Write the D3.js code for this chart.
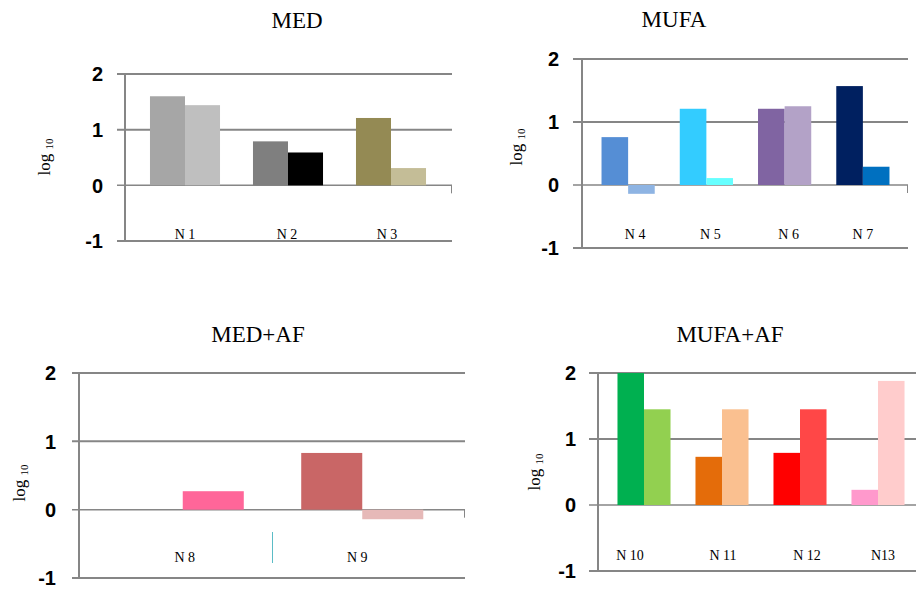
<!DOCTYPE html>
<html>
<head>
<meta charset="utf-8">
<script src="https://cdn.jsdelivr.net/npm/d3@7"></script>
<style>
  body { margin: 0; background: #fff; }
</style>
</head>
<body>
<svg id="chart" width="916" height="589"></svg>
<script>
// ---- data ----
const yTicks = [-1, 0, 1, 2];

const medCats = ['N 1', 'N 2', 'N 3'];
const medFirst = [1.60, 0.79, 1.21];
const medSecond = [1.44, 0.59, 0.31];
const medColorsFirst = ['#a6a6a6', '#7f7f7f', '#948a54'];
const medColorsSecond = ['#bfbfbf', '#000000', '#c4bd97'];

const mufaCats = ['N 4', 'N 5', 'N 6', 'N 7'];
const mufaFirst = [0.76, 1.21, 1.21, 1.57];
const mufaSecond = [-0.14, 0.11, 1.25, 0.29];
const mufaColorsFirst = ['#558ed5', '#33ccff', '#8064a2', '#002060'];
const mufaColorsSecond = ['#8eb4e3', '#66ffff', '#b3a2c7', '#0070c0'];

const medAfCats = ['N 8', 'N 9'];
const medAfFirst = [null, 0.83];
const medAfSecond = [0.27, -0.14];
const medAfColorsFirst = ['#ff6699', '#c96666'];
const medAfColorsSecond = ['#ff6699', '#e6b9b8'];

const mufaAfCats = ['N 10', 'N 11', 'N 12', 'N13'];
const mufaAfFirst = [2.0, 0.73, 0.79, 0.23];
const mufaAfSecond = [1.45, 1.45, 1.45, 1.88];
const mufaAfColorsFirst = ['#00b050', '#e46c0a', '#ff0000', '#ff99cc'];
const mufaAfColorsSecond = ['#92d050', '#fac090', '#ff4747', '#ffcccc'];

// ---- panel layout ----
const panels = [
    { title: 'MED', cats: medCats, first: medFirst, second: medSecond,
      c1: medColorsFirst, c2: medColorsSecond,
      titleX: 297, titleY: 28, axisX: 125, gridX0: 117, gridX1: 452,
      yTop: 74, yBot: 241, band: [133.5, 442.5], labelY: 239,
      nudge: [0, -1, -4], tickLabelX: 103, logX: 50, logY: 157, endTick: true },
    { title: 'MUFA', cats: mufaCats, first: mufaFirst, second: mufaSecond,
      c1: mufaColorsFirst, c2: mufaColorsSecond,
      titleX: 674, titleY: 27, axisX: 582, gridX0: 573, gridX1: 908,
      yTop: 59, yBot: 248, band: [589, 902], labelY: 239,
      nudge: [7, 4, 4, 0], tickLabelX: 559, logX: 522, logY: 147, endTick: true },
    { title: 'MED+AF', cats: medAfCats, first: medAfFirst, second: medAfSecond,
      c1: medAfColorsFirst, c2: medAfColorsSecond,
      titleX: 258, titleY: 342, axisX: 79, gridX0: 72, gridX1: 465,
      yTop: 373, yBot: 578, band: [93, 452], labelY: 562,
      nudge: [2, -5], tickLabelX: 56, logX: 25, logY: 483, endTick: true, separators: true },
    { title: 'MUFA+AF', cats: mufaAfCats, first: mufaAfFirst, second: mufaAfSecond,
      c1: mufaAfColorsFirst, c2: mufaAfColorsSecond,
      titleX: 730, titleY: 342, axisX: 598, gridX0: 589, gridX1: 916,
      yTop: 373, yBot: 571, band: [605, 917], labelY: 560,
      nudge: [-14, 1, 7, 5], tickLabelX: 576, logX: 540, logY: 472, endTick: false }
];

const svg = d3.select('#chart');
const gridColor = '#868686';

panels.forEach(p => {
    const g = svg.append('g');

    const y = d3.scaleLinear().domain([-1, 2]).range([p.yBot, p.yTop]);
    const x = d3.scaleBand().domain(p.cats).range(p.band)
        .paddingInner(0.32).paddingOuter(0.16);
    const xs = d3.scaleBand().domain([0, 1]).range([0, x.bandwidth()]);

    // title
    g.append('text')
        .attr('x', p.titleX)
        .attr('y', p.titleY)
        .attr('text-anchor', 'middle')
        .style('font-family', '"Liberation Serif", "Times New Roman", serif')
        .style('font-size', '23px')
        .text(p.title);

    // horizontal grid lines
    g.selectAll('.grid')
        .data(yTicks)
        .join('line')
        .attr('x1', p.gridX0)
        .attr('x2', p.gridX1)
        .attr('y1', d => y(d))
        .attr('y2', d => y(d))
        .style('stroke', gridColor)
        .style('stroke-width', d => d === 0 ? 1.5 : 2);

    // tick labels
    g.selectAll('.tick-label')
        .data(yTicks)
        .join('text')
        .attr('x', p.tickLabelX)
        .attr('y', d => y(d))
        .attr('dy', '0.36em')
        .attr('text-anchor', 'end')
        .style('font-family', '"Liberation Sans", Arial, sans-serif')
        .style('font-weight', 'bold')
        .style('font-size', '20px')
        .text(d => d);

    // bars
    const rows = [];
    p.cats.forEach((c, i) => {
        if (p.first[i] != null) rows.push({ cat: c, k: 0, v: p.first[i], color: p.c1[i] });
        if (p.second[i] != null) rows.push({ cat: c, k: 1, v: p.second[i], color: p.c2[i] });
    });
    g.selectAll('.bar')
        .data(rows)
        .join('rect')
        .attr('x', d => x(d.cat) + xs(d.k))
        .attr('width', xs.bandwidth())
        .attr('y', d => y(Math.max(0, d.v)))
        .attr('height', d => Math.abs(y(d.v) - y(0)))
        .style('fill', d => d.color);

    // vertical axis
    g.append('line')
        .attr('x1', p.axisX).attr('x2', p.axisX)
        .attr('y1', p.yTop).attr('y2', p.yBot)
        .style('stroke', gridColor)
        .style('stroke-width', 2);

    if (p.endTick) {
        g.append('line')
            .attr('x1', p.gridX1 - 0.5).attr('x2', p.gridX1 - 0.5)
            .attr('y1', y(0)).attr('y2', y(0) + 8)
            .style('stroke', gridColor)
            .style('stroke-width', 1);
    }

    if (p.separators) {
        g.selectAll('.sep')
            .data(p.cats.slice(1))
            .join('line')
            .attr('x1', d => x(d) - x.step() * 0.16)
            .attr('x2', d => x(d) - x.step() * 0.16)
            .attr('y1', 532)
            .attr('y2', 563)
            .style('stroke', '#5bbcc6')
            .style('stroke-width', 1);
    }

    // category labels
    g.selectAll('.cat-label')
        .data(p.cats)
        .join('text')
        .attr('x', (d, i) => x(d) + x.bandwidth() / 2 + p.nudge[i])
        .attr('y', p.labelY)
        .attr('text-anchor', 'middle')
        .style('font-family', '"Liberation Serif", "Times New Roman", serif')
        .style('font-size', '14px')
        .text(d => d);

    // y axis title: log 10
    const logText = g.append('text')
        .attr('transform', `translate(${p.logX},${p.logY}) rotate(-90)`)
        .attr('text-anchor', 'middle')
        .style('font-family', '"Liberation Serif", "Times New Roman", serif')
        .style('font-size', '17px');
    logText.append('tspan').text('log ');
    logText.append('tspan')
        .attr('dy', 3)
        .style('font-size', '11px')
        .text('10');
});
</script>
</body>
</html>
